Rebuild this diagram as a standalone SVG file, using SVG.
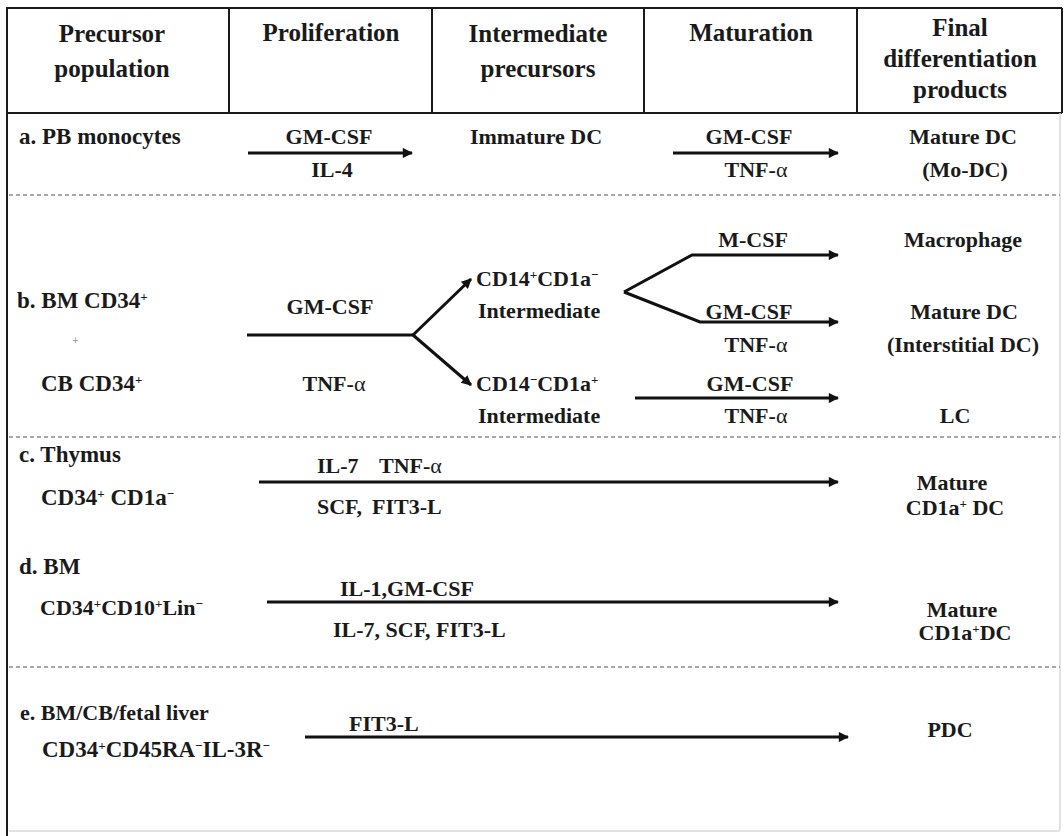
<svg xmlns="http://www.w3.org/2000/svg" width="1064" height="836" viewBox="0 0 1064 836">
<style>
text{font-family:"Liberation Serif","Times New Roman",serif;font-weight:bold;fill:#1a1a1a}
.h{font-size:25px}
.b{font-size:22px}
.l{font-size:23px}
.m{text-anchor:middle}
.a{font-weight:normal}
.sp{font-size:13px}
.frame{stroke:#1a1a1a;stroke-width:2;fill:none}
.dash{stroke:#8a8a8a;stroke-width:1.3;stroke-dasharray:4 3;fill:none}
.conn{stroke:#111;stroke-width:3;fill:none}
</style>
<defs>
<marker id="ah" viewBox="0 0 10 10" refX="9" refY="5" markerWidth="4.6" markerHeight="3.4" markerUnits="strokeWidth" orient="auto">
<path d="M0,0 L10,5 L0,10 z" fill="#111"/>
</marker>
</defs>
<rect width="1064" height="836" fill="#fff"/>
<g id="frame">
<line class="frame" x1="7" y1="8" x2="1062" y2="8"/>
<line class="frame" x1="7" y1="113" x2="1062" y2="113"/>
<line class="frame" x1="7" y1="7" x2="7" y2="836" stroke-width="3"/>
<line class="frame" x1="229" y1="8" x2="229" y2="113"/>
<line class="frame" x1="432" y1="8" x2="432" y2="113"/>
<line class="frame" x1="644" y1="8" x2="644" y2="113"/>
<line class="frame" x1="857" y1="8" x2="857" y2="113"/>
<line class="frame" x1="1062" y1="8" x2="1062" y2="113"/>
<line x1="1060" y1="113" x2="1060" y2="830" stroke="#d8d8d8" stroke-width="1.5"/>
<line x1="9" y1="831" x2="1060" y2="831" stroke="#d8d8d8" stroke-width="1.5"/>
<line class="dash" x1="9" y1="195" x2="1060" y2="195"/>
<line class="dash" x1="9" y1="437" x2="1060" y2="437"/>
<line class="dash" x1="9" y1="667" x2="1060" y2="667"/>
</g>
<g id="header">
<text class="h m" x="112" y="42">Precursor</text>
<text class="h m" x="112" y="77">population</text>
<text class="h m" x="331" y="41">Proliferation</text>
<text class="h m" x="538" y="42">Intermediate</text>
<text class="h m" x="538" y="77">precursors</text>
<text class="h m" x="751" y="41">Maturation</text>
<text class="h m" x="960" y="36">Final</text>
<text class="h m" x="960" y="67">differentiation</text>
<text class="h m" x="960" y="98">products</text>
</g>
<g id="connectors">
<line class="conn" x1="248" y1="153" x2="412" y2="153" marker-end="url(#ah)"/>
<line class="conn" x1="673" y1="153" x2="838" y2="153" marker-end="url(#ah)"/>
<line class="conn" x1="247" y1="335" x2="413" y2="335"/>
<polyline class="conn" points="413,335 471,279" marker-end="url(#ah)"/>
<polyline class="conn" points="413,335 471,385" marker-end="url(#ah)"/>
<polyline class="conn" points="624,292 692,255 838,255" marker-end="url(#ah)"/>
<polyline class="conn" points="624,292 700,322 838,322" marker-end="url(#ah)"/>
<line class="conn" x1="635" y1="398" x2="838" y2="398" marker-end="url(#ah)"/>
<line class="conn" x1="259" y1="482" x2="838" y2="482" marker-end="url(#ah)"/>
<line class="conn" x1="267" y1="602" x2="838" y2="602" marker-end="url(#ah)"/>
<line class="conn" x1="305" y1="737" x2="848" y2="737" marker-end="url(#ah)"/>
</g>
<g id="row-a">
<text class="l" x="19" y="144">a. PB monocytes</text>
<text class="b m" x="329" y="144">GM-CSF</text>
<text class="b m" x="332" y="177">IL-4</text>
<text class="b m" x="536" y="144">Immature DC</text>
<text class="b m" x="749" y="144">GM-CSF</text>
<text class="b m" x="756" y="177">TNF-<tspan class="a">α</tspan></text>
<text class="b m" x="963" y="144">Mature DC</text>
<text class="b m" x="965" y="177">(Mo-DC)</text>
</g>
<g id="row-b">
<text class="l" x="17" y="308">b. BM CD34<tspan class="sp" dy="-7">+</tspan></text>
<text x="72" y="345" style="font-size:12px;font-weight:normal;fill:#777">+</text>
<text class="l" x="41" y="391">CB CD34<tspan class="sp" dy="-7">+</tspan></text>
<text class="b m" x="330" y="314">GM-CSF</text>
<text class="b m" x="334" y="391">TNF-<tspan class="a">α</tspan></text>
<text class="b" x="476" y="286">CD14<tspan class="sp" dy="-7">+</tspan><tspan dy="7">CD1a</tspan><tspan class="sp" dy="-7">−</tspan></text>
<text class="b" x="478" y="318">Intermediate</text>
<text class="b" x="476" y="391">CD14<tspan class="sp" dy="-7">−</tspan><tspan dy="7">CD1a</tspan><tspan class="sp" dy="-7">+</tspan></text>
<text class="b" x="478" y="423">Intermediate</text>
<text class="b m" x="753" y="247">M-CSF</text>
<text class="b m" x="749" y="319">GM-CSF</text>
<text class="b m" x="756" y="352">TNF-<tspan class="a">α</tspan></text>
<text class="b m" x="750" y="391">GM-CSF</text>
<text class="b m" x="756" y="423">TNF-<tspan class="a">α</tspan></text>
<text class="b m" x="963" y="247">Macrophage</text>
<text class="b m" x="964" y="319">Mature DC</text>
<text class="b m" x="963" y="352">(Interstitial DC)</text>
<text class="b m" x="955" y="423">LC</text>
</g>
<g id="row-c">
<text class="l" x="19" y="462">c. Thymus</text>
<text class="l" x="41" y="505">CD34<tspan class="sp" dy="-7">+</tspan><tspan dy="7"> CD1a</tspan><tspan class="sp" dy="-7">−</tspan></text>
<text class="b" x="317" y="473">IL-7</text>
<text class="b" x="379" y="473">TNF-<tspan class="a">α</tspan></text>
<text class="b" x="317" y="514">SCF,</text>
<text class="b" x="372" y="514">FIT3-L</text>
<text class="b m" x="952" y="490">Mature</text>
<text class="b m" x="955" y="515">CD1a<tspan class="sp" dy="-7">+</tspan><tspan dy="7"> DC</tspan></text>
</g>
<g id="row-d">
<text class="l" x="19" y="574">d. BM</text>
<text class="b" x="40" y="615">CD34<tspan class="sp" dy="-7">+</tspan><tspan dy="7">CD10</tspan><tspan class="sp" dy="-7">+</tspan><tspan dy="7">Lin</tspan><tspan class="sp" dy="-7">−</tspan></text>
<text class="b" x="340" y="596">IL-1,GM-CSF</text>
<text class="b" x="333" y="637">IL-7, SCF, FIT3-L</text>
<text class="b m" x="962" y="617">Mature</text>
<text class="b m" x="965" y="640">CD1a<tspan class="sp" dy="-7">+</tspan><tspan dy="7">DC</tspan></text>
</g>
<g id="row-e">
<text class="b" x="20" y="720">e. BM/CB/fetal liver</text>
<text class="l" x="42" y="757">CD34<tspan class="sp" dy="-7">+</tspan><tspan dy="7">CD45RA</tspan><tspan class="sp" dy="-7">−</tspan><tspan dy="7">IL-3R</tspan><tspan class="sp" dy="-7">−</tspan></text>
<text class="b" x="349" y="731">FIT3-L</text>
<text class="b m" x="950" y="737">PDC</text>
</g>
</svg>
